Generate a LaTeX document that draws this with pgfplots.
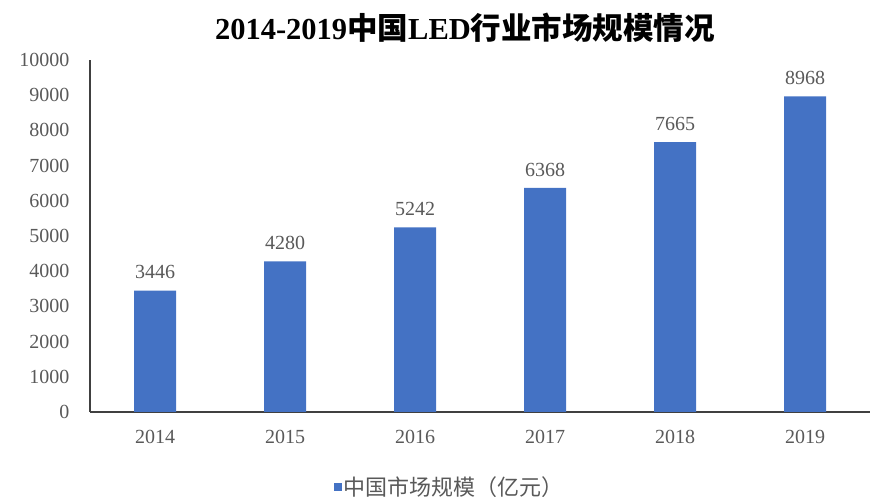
\documentclass[border=0pt]{standalone}
\usepackage{pgfplots}
\pgfplotsset{compat=1.18}
\usepackage{fontspec}
\setmainfont{Liberation Serif}
\newfontfamily\cjk{Noto Sans CJK SC}
\newfontfamily\cjkb{Noto Sans CJK SC Bold}
\definecolor{barblue}{HTML}{4472C4}
\definecolor{txtgray}{HTML}{595959}
\begin{document}
\begin{tikzpicture}[x=1pt,y=1pt]
\useasboundingbox (0,0) rectangle (877,497);
\node[anchor=center] at (465,469) {\fontsize{30.5}{34}\selectfont\bfseries 2014-2019{\cjkb 中国}LED{\cjkb 行业市场规模情况}};
\begin{axis}[
  at={(90pt,85pt)}, anchor=south west,
  scale only axis, width=780pt, height=352pt,
  xmin=-0.5, xmax=5.5, ymin=0, ymax=10000,
  axis x line*=bottom, axis y line*=left,
  axis line style={black!75, line width=1.2pt, -},
  xtick=data, xticklabels={2014,2015,2016,2017,2018,2019},
  ytick distance=1000,
  scaled y ticks=false,
  major tick length=0pt,
  /pgf/number format/1000 sep={},
  /pgf/number format/assume math mode=true,
  ticklabel style={font=\fontsize{20}{23}\selectfont, text=txtgray},
  yticklabel style={xshift=-17pt, /pgf/number format/1000 sep={}},
  xticklabel style={yshift=-15pt},
  ybar, bar width=42pt,
  nodes near coords,
  every node near coord/.append style={font=\fontsize{20}{23}\selectfont, text=txtgray, yshift=8pt, /pgf/number format/1000 sep={}},
  legend style={at={(0.4615,-0.213)}, anchor=center, draw=none, font=\cjk\fontsize{22}{26}\selectfont, text=txtgray, inner sep=0pt},
  legend image code/.code={\fill[barblue] (0pt,-4pt) rectangle (8pt,4pt);},
]
\addplot[fill=barblue, draw=none] coordinates {(0,3446) (1,4280) (2,5242) (3,6368) (4,7665) (5,8968)};
\addlegendentry{中国市场规模（亿元）}
\end{axis}
\end{tikzpicture}
\end{document}
